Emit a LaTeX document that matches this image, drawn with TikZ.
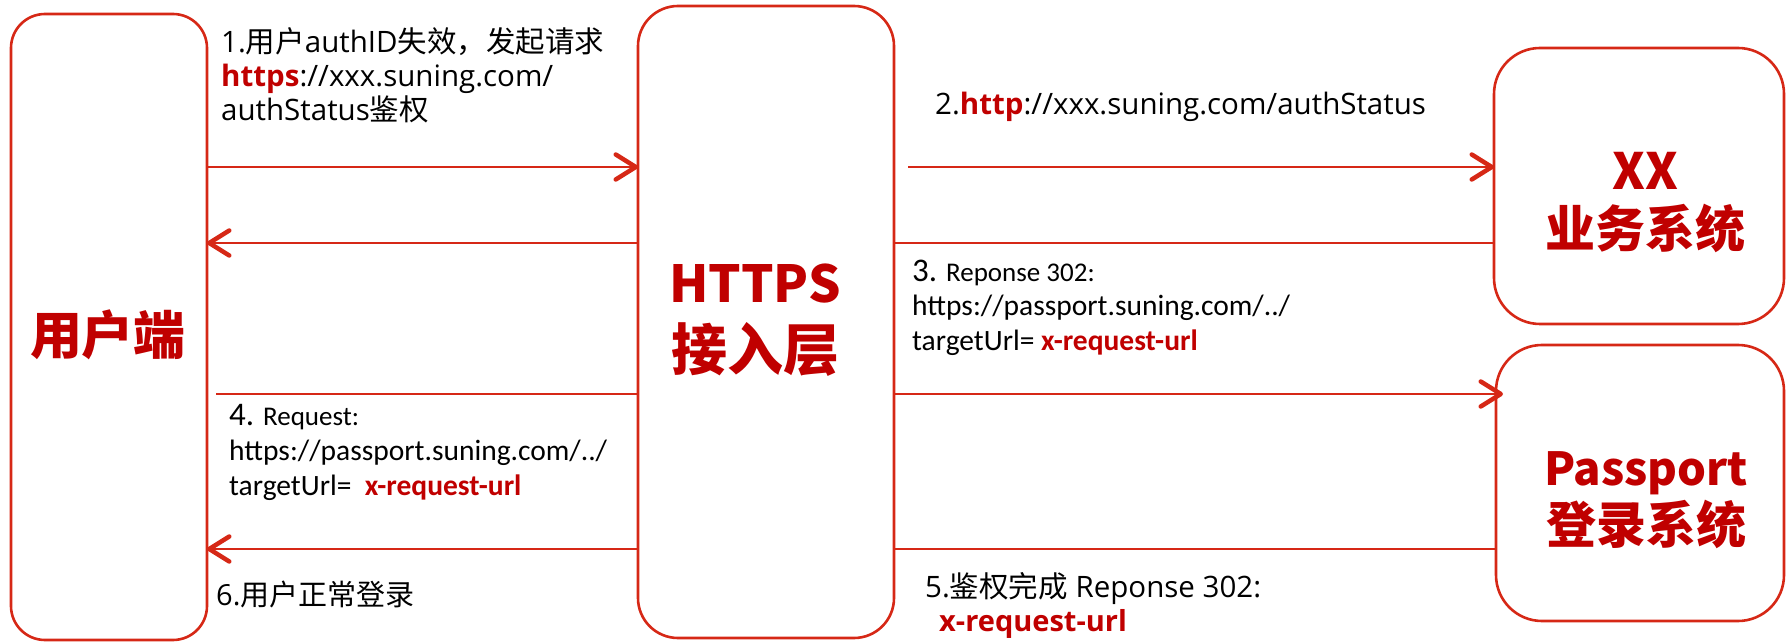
\documentclass[tikz,border=0pt]{standalone}
\usepackage{fontspec}
\setmainfont{Open Sans}
\newfontfamily\cjk{Noto Sans CJK SC}
\newfontfamily\calib{Carlito}
\usetikzlibrary{arrows.meta}
\definecolor{ln}{RGB}{214,40,22}
\definecolor{tr}{RGB}{192,0,0}
\newcommand{\zh}[1]{{\cjk #1}}
\newcommand{\rb}[1]{{\bfseries\color{tr}#1}}
\begin{document}
\begin{tikzpicture}[x=1pt,y=-1pt,
  box/.style={draw=ln, line width=2.6pt, rounded corners=#1, inner sep=0pt, outer sep=0pt},
  big/.style 2 args={inner sep=0pt, align=center, text=tr, font=\cjk\bfseries\fontsize{#1}{#2}\selectfont},
  conn/.style={draw=ln, line width=2pt},
  ar/.style={conn, -{Straight Barb[length=20pt, width=25pt, line width=4.5pt, round]}},
  lbl/.style={inner sep=0pt, align=left, anchor=base west}]
\useasboundingbox (0,0) rectangle (1786,644);
% boxes
\node[box=34pt, minimum width=196pt, minimum height=626pt] (user) at (109,327) {};
\node[box=40pt, minimum width=256pt, minimum height=632pt] (https) at (766,322) {};
\node[box=46pt, minimum width=290pt, minimum height=276pt] (xx) at (1639,186) {};
\node[box=46pt, minimum width=288pt, minimum height=276pt] (pass) at (1640,483) {};
% box texts
\node[big={52}{62}] (usertxt) at (108,335) {用户端};
\node[big={56}{68}] (httpstxt) at (755,320) {{\fontsize{51}{68}\selectfont HTTPS}\\接入层};
\node[big={50}{58}] (xxtxt) at (1645,203) {XX\\业务系统};
\node[big={50}{58}] (passtxt) at (1646,500) {{\fontsize{45.5}{58}\selectfont Passport}\\登录系统};
% rows
\coordinate (r1) at (0,167);
\coordinate (r2) at (0,243);
\coordinate (r3) at (0,394);
\coordinate (r4) at (0,549);
% connectors
\draw[ar] (user.east |- r1) -- (https.west |- r1);
\draw[ar] (https.west |- r2) -- (user.east |- r2);
\draw[ar] ([xshift=14pt]https.east |- r1) -- (xx.west |- r1);
\draw[conn] (xx.west |- r2) -- (https.east |- r2);
\draw[conn] (https.west |- r3) -- ([xshift=9pt]user.east |- r3);
\draw[ar] (https.east |- r3) -- ([xshift=7pt]pass.west |- r3);
\draw[conn] (pass.west |- r4) -- (https.east |- r4);
\draw[ar] (https.west |- r4) -- (user.east |- r4);
% labels (anchor = baseline of last line)
\node[lbl, font=\fontsize{29.5}{34}\selectfont] (l1) at (221,121)
  {1.\zh{用户}authID\zh{失效，发起请求}\\\rb{https}://xxx.suning.com/\\authStatus\zh{鉴权}};
\node[lbl, font=\fontsize{29.5}{34}\selectfont] (l2) at (935,115)
  {2.\rb{http}://xxx.suning.com/authStatus};
\node[lbl, font=\calib\fontsize{29.5}{34.5}\selectfont] (l3) at (912,350)
  {{\fontsize{33}{34.5}\selectfont 3.} {\fontsize{27}{34.5}\selectfont Reponse 302:}\\https://passport.suning.com/../\\targetUrl= \rb{x-request-url}};
\node[lbl, font=\calib\fontsize{29.5}{35}\selectfont] (l4) at (229,495)
  {{\fontsize{33}{35}\selectfont 4.} {\fontsize{27}{35}\selectfont Request:}\\https://passport.suning.com/../\\targetUrl=\ \ \rb{x-request-url}};
\node[lbl, font=\fontsize{29.5}{34}\selectfont] (l5) at (925,631)
  {5.\zh{鉴权完成} Reponse 302:\\\hspace*{14pt}{\fontsize{29}{34}\selectfont\rb{x-request-url}}};
\node[lbl, font=\fontsize{29}{34}\selectfont] (l6) at (216,605)
  {6.\zh{用户正常登录}};
\end{tikzpicture}
\end{document}
